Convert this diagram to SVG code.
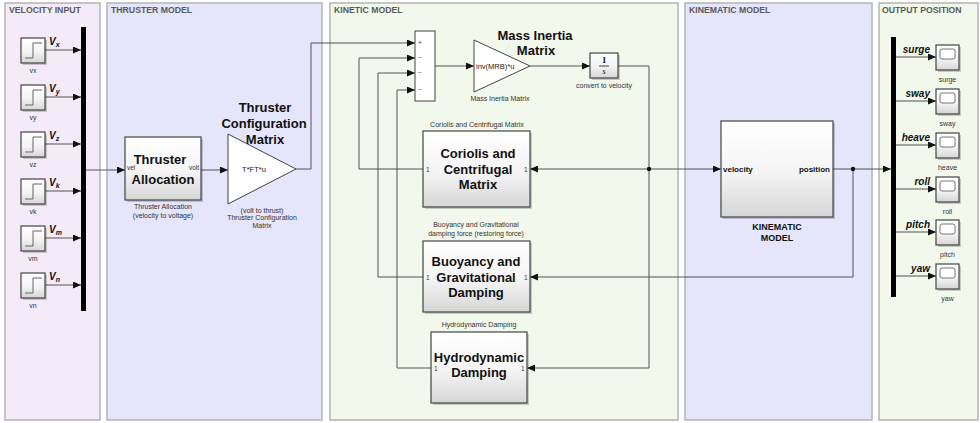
<svg xmlns="http://www.w3.org/2000/svg" width="980" height="423" viewBox="0 0 980 423">
<defs>
<style>
text{font-family:"Liberation Sans",Arial,sans-serif}
.pt{font-size:8.7px;font-weight:bold;fill:#5a5a5a}
.cap{font-size:7px;fill:#333;text-anchor:middle}
.big{font-size:13px;font-weight:bold;fill:#111;text-anchor:middle}
.port{font-size:6.5px;fill:#333}
.sig{font-size:10px;font-weight:bold;font-style:italic;fill:#111}
.wire{fill:none;stroke:#555;stroke-width:1}
.arr{marker-end:url(#ah)}
.blk{fill:url(#bg);stroke:#444;stroke-width:1.2}
.shd{fill:#000;opacity:0.18}
.panel{stroke:#b4b4b4;stroke-width:1.5}
</style>
<linearGradient id="bg" x1="0" y1="0" x2="0" y2="1">
<stop offset="0" stop-color="#ffffff"/>
<stop offset="0.55" stop-color="#f4f4f4"/>
<stop offset="1" stop-color="#d6d6d6"/>
</linearGradient>
<marker id="ah" markerUnits="userSpaceOnUse" markerWidth="8" markerHeight="7" refX="8" refY="3.5" orient="auto">
<path d="M0,0 L8,3.5 L0,7 z" fill="#111"/>
</marker>
</defs>

<!-- panels -->
<g id="panels">
<rect class="panel" x="5" y="3" width="95" height="417" fill="#f5ebf8"/>
<rect class="panel" x="107" y="3" width="215" height="417" fill="#e5e5fb"/>
<rect class="panel" x="330" y="3" width="348" height="417" fill="#f2f8eb"/>
<rect class="panel" x="685" y="3" width="187" height="417" fill="#e5e5fb"/>
<rect class="panel" x="879" y="3" width="99" height="417" fill="#f2f8eb"/>
<text class="pt" x="9" y="13">VELOCITY INPUT</text>
<text class="pt" x="111" y="13">THRUSTER MODEL</text>
<text class="pt" x="334" y="13">KINETIC MODEL</text>
<text class="pt" x="689" y="13">KINEMATIC MODEL</text>
<text class="pt" x="882" y="13">OUTPUT POSITION</text>
</g>

<!-- connectors -->
<g id="connectors">
<path class="wire arr" d="M45,50 H81"/>
<path class="wire arr" d="M45,97 H81"/>
<path class="wire arr" d="M45,144 H81"/>
<path class="wire arr" d="M45,191 H81"/>
<path class="wire arr" d="M45,238 H81"/>
<path class="wire arr" d="M45,285 H81"/>
<path class="wire arr" d="M86,170 H125"/>
<path class="wire arr" d="M201,170 H228"/>
<path class="wire arr" d="M296,169 H311 V43 H415"/>
<path class="wire arr" d="M423,169 H359 V58 H415"/>
<path class="wire arr" d="M423,277 H378 V73 H415"/>
<path class="wire arr" d="M431,368 H397 V90 H415"/>
<path class="wire arr" d="M435,66 H474"/>
<path class="wire arr" d="M530,66 H590"/>
<path class="wire arr" d="M618,66 H649 V368 H527"/>
<path class="wire arr" d="M649,169 H530"/>
<path class="wire arr" d="M649,169 H721"/>
<path class="wire arr" d="M833,169 H891"/>
<path class="wire arr" d="M853,169 V277 H530"/>
<circle cx="649" cy="169" r="2.2" fill="#111"/>
<circle cx="853" cy="169" r="2.2" fill="#111"/>
<path class="wire arr" d="M896,57 H936"/>
<path class="wire arr" d="M896,101 H936"/>
<path class="wire arr" d="M896,145 H936"/>
<path class="wire arr" d="M896,189 H936"/>
<path class="wire arr" d="M896,232 H936"/>
<path class="wire arr" d="M896,276 H936"/>
</g>

<!-- velocity input -->
<g id="vx">
<rect class="shd" x="23" y="40" width="24" height="25"/>
<rect class="blk" x="21" y="38" width="24" height="25"/>
<path d="M25,58 H33 V43 H42" fill="none" stroke="#666" stroke-width="1"/>
<text class="cap" x="33" y="73">vx</text>
<text class="sig" x="49" y="45">V<tspan font-size="7" dy="2">x</tspan></text>
</g>
<g id="vy">
<rect class="shd" x="23" y="87" width="24" height="25"/>
<rect class="blk" x="21" y="85" width="24" height="25"/>
<path d="M25,105 H33 V90 H42" fill="none" stroke="#666" stroke-width="1"/>
<text class="cap" x="33" y="120">vy</text>
<text class="sig" x="49" y="92">V<tspan font-size="7" dy="2">y</tspan></text>
</g>
<g id="vz">
<rect class="shd" x="23" y="134" width="24" height="25"/>
<rect class="blk" x="21" y="132" width="24" height="25"/>
<path d="M25,152 H33 V137 H42" fill="none" stroke="#666" stroke-width="1"/>
<text class="cap" x="33" y="167">vz</text>
<text class="sig" x="49" y="139">V<tspan font-size="7" dy="2">z</tspan></text>
</g>
<g id="vk">
<rect class="shd" x="23" y="181" width="24" height="25"/>
<rect class="blk" x="21" y="179" width="24" height="25"/>
<path d="M25,199 H33 V184 H42" fill="none" stroke="#666" stroke-width="1"/>
<text class="cap" x="33" y="214">vk</text>
<text class="sig" x="49" y="186">V<tspan font-size="7" dy="2">k</tspan></text>
</g>
<g id="vm">
<rect class="shd" x="23" y="228" width="24" height="25"/>
<rect class="blk" x="21" y="226" width="24" height="25"/>
<path d="M25,246 H33 V231 H42" fill="none" stroke="#666" stroke-width="1"/>
<text class="cap" x="33" y="261">vm</text>
<text class="sig" x="49" y="233">V<tspan font-size="7" dy="2">m</tspan></text>
</g>
<g id="vn">
<rect class="shd" x="23" y="275" width="24" height="25"/>
<rect class="blk" x="21" y="273" width="24" height="25"/>
<path d="M25,293 H33 V278 H42" fill="none" stroke="#666" stroke-width="1"/>
<text class="cap" x="33" y="308">vn</text>
<text class="sig" x="49" y="280">V<tspan font-size="7" dy="2">n</tspan></text>
</g>
<g id="mux">
<rect x="81" y="27" width="5" height="284" fill="#000"/>
</g>

<!-- thruster model -->
<g id="thruster-allocation">
<rect class="shd" x="127" y="139" width="76" height="63"/>
<rect class="blk" x="125" y="137" width="76" height="63"/>
<text class="big" x="160" y="164" font-size="12.5">Thruster</text>
<text class="big" x="163" y="184" font-size="12.5">Allocation</text>
<text class="port" x="127" y="170">vel</text>
<text class="port" x="199" y="170" text-anchor="end">volt</text>
<text class="cap" x="163" y="209">Thruster Allocation</text>
<text class="cap" x="163" y="218">(velocity to voltage)</text>
</g>
<g id="thruster-config">
<text class="big" x="265" y="112">Thruster</text>
<text class="big" x="264" y="128">Configuration</text>
<text class="big" x="265" y="144">Matrix</text>
<path d="M228,134 L296,169 L228,204 Z" fill="#fff" stroke="#444" stroke-width="1"/>
<text x="254" y="172" font-size="7.5" fill="#222" text-anchor="middle">T*FT*u</text>
<text class="cap" x="262" y="213">(volt to thrust)</text>
<text class="cap" x="262" y="220">Thruster Configuration</text>
<text class="cap" x="262" y="228">Matrix</text>
</g>

<!-- kinetic model -->
<g id="sum">
<rect x="415" y="31" width="20" height="70" fill="#fff" stroke="#444" stroke-width="1"/>
<text class="port" x="418" y="45">+</text>
<text class="port" x="418" y="60">−</text>
<text class="port" x="418" y="75">−</text>
<text class="port" x="418" y="92">−</text>
</g>
<g id="mass-inertia">
<text class="big" x="535" y="40" font-size="12.5">Mass Inertia</text>
<text class="big" x="536" y="55" font-size="12.5">Matrix</text>
<path d="M474,40 L530,66 L474,92 Z" fill="#fff" stroke="#444" stroke-width="1"/>
<text x="476" y="69" font-size="7.5" fill="#222">inv(MRB)*u</text>
<text class="cap" x="500" y="101">Mass Inertia Matrix</text>
</g>
<g id="integrator">
<rect class="shd" x="592" y="55" width="28" height="25"/>
<rect class="blk" x="590" y="53" width="28" height="25"/>
<text x="604" y="63" font-size="8.5" font-weight="bold" text-anchor="middle" style="font-family:'Liberation Serif',serif">1</text>
<line x1="599" y1="66" x2="609" y2="66" stroke="#111" stroke-width="0.8"/>
<text x="604" y="74" font-size="8" font-style="italic" text-anchor="middle" style="font-family:'Liberation Serif',serif">s</text>
<text class="cap" x="604" y="88">convert to velocity</text>
</g>
<g id="coriolis">
<text class="cap" x="477" y="127">Coriolis and Centrifugal Matrix</text>
<rect class="shd" x="425" y="133" width="107" height="76"/>
<rect class="blk" x="423" y="131" width="107" height="76"/>
<text class="big" x="478" y="158">Coriolis and</text>
<text class="big" x="478" y="174">Centrifugal</text>
<text class="big" x="478" y="189">Matrix</text>
<text class="port" x="426" y="172">1</text>
<text class="port" x="524" y="172">1</text>
</g>
<g id="buoyancy">
<text class="cap" x="476" y="227">Buoyancy and Gravitational</text>
<text class="cap" x="476" y="236">damping force (restoring force)</text>
<rect class="shd" x="425" y="243" width="107" height="71"/>
<rect class="blk" x="423" y="241" width="107" height="71"/>
<text class="big" x="476" y="266">Buoyancy and</text>
<text class="big" x="476" y="282">Gravitational</text>
<text class="big" x="476" y="297">Damping</text>
<text class="port" x="426" y="280">1</text>
<text class="port" x="524" y="280">1</text>
</g>
<g id="hydrodynamic">
<text class="cap" x="479" y="327">Hydrodynamic Damping</text>
<rect class="shd" x="433" y="334" width="96" height="71"/>
<rect class="blk" x="431" y="332" width="96" height="71"/>
<text class="big" x="479" y="362">Hydrodynamic</text>
<text class="big" x="479" y="377">Damping</text>
<text class="port" x="434" y="371">1</text>
<text class="port" x="521" y="371">1</text>
</g>

<!-- kinematic model -->
<g id="kinematic">
<rect class="shd" x="723" y="123" width="112" height="96"/>
<rect class="blk" x="721" y="121" width="112" height="96"/>
<text x="723" y="172" font-size="8" font-weight="bold" fill="#111">velocity</text>
<text x="830" y="172" font-size="8" font-weight="bold" fill="#111" text-anchor="end">position</text>
<text x="777" y="230" font-size="9" font-weight="bold" fill="#111" text-anchor="middle">KINEMATIC</text>
<text x="777" y="241" font-size="9" font-weight="bold" fill="#111" text-anchor="middle">MODEL</text>
</g>

<!-- output position -->
<g id="demux">
<rect x="891" y="37" width="5" height="260" fill="#000"/>
</g>
<g id="surge">
<text class="sig" x="930" y="53" text-anchor="end">surge</text>
<rect class="shd" x="938" y="47" width="23" height="25"/>
<rect class="blk" x="936" y="45" width="23" height="25"/>
<rect x="940" y="49" width="15" height="10" rx="2" fill="#fff" stroke="#555" stroke-width="0.8"/>
<text class="cap" x="947.5" y="82">surge</text>
</g>
<g id="sway">
<text class="sig" x="930" y="97" text-anchor="end">sway</text>
<rect class="shd" x="938" y="91" width="23" height="25"/>
<rect class="blk" x="936" y="89" width="23" height="25"/>
<rect x="940" y="93" width="15" height="10" rx="2" fill="#fff" stroke="#555" stroke-width="0.8"/>
<text class="cap" x="947.5" y="126">sway</text>
</g>
<g id="heave">
<text class="sig" x="930" y="141" text-anchor="end">heave</text>
<rect class="shd" x="938" y="135" width="23" height="25"/>
<rect class="blk" x="936" y="133" width="23" height="25"/>
<rect x="940" y="137" width="15" height="10" rx="2" fill="#fff" stroke="#555" stroke-width="0.8"/>
<text class="cap" x="947.5" y="170">heave</text>
</g>
<g id="roll">
<text class="sig" x="930" y="185" text-anchor="end">roll</text>
<rect class="shd" x="938" y="179" width="23" height="25"/>
<rect class="blk" x="936" y="177" width="23" height="25"/>
<rect x="940" y="181" width="15" height="10" rx="2" fill="#fff" stroke="#555" stroke-width="0.8"/>
<text class="cap" x="947.5" y="214">roll</text>
</g>
<g id="pitch">
<text class="sig" x="930" y="228" text-anchor="end">pitch</text>
<rect class="shd" x="938" y="222" width="23" height="25"/>
<rect class="blk" x="936" y="220" width="23" height="25"/>
<rect x="940" y="224" width="15" height="10" rx="2" fill="#fff" stroke="#555" stroke-width="0.8"/>
<text class="cap" x="947.5" y="257">pitch</text>
</g>
<g id="yaw">
<text class="sig" x="930" y="272" text-anchor="end">yaw</text>
<rect class="shd" x="938" y="266" width="23" height="25"/>
<rect class="blk" x="936" y="264" width="23" height="25"/>
<rect x="940" y="268" width="15" height="10" rx="2" fill="#fff" stroke="#555" stroke-width="0.8"/>
<text class="cap" x="947.5" y="301">yaw</text>
</g>
</svg>
